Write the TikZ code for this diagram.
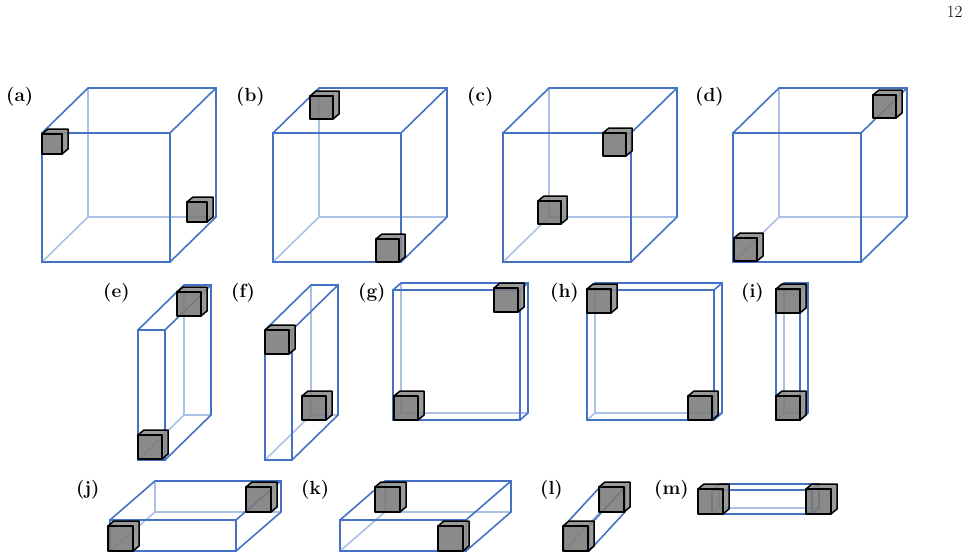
\documentclass[tikz,border=0pt]{standalone}
\begin{document}
\definecolor{bl}{HTML}{4472C4}
\tikzset{vis/.style={draw=bl,line width=1.6pt},hid/.style={draw=bl!45,line width=1.6pt},
lab/.style={font=\fontsize{19}{22}\selectfont\bfseries,anchor=west,inner sep=0pt},
cf/.style={fill=black!52,draw=black,line width=1.5pt,fill opacity=.88,line join=round},
ct/.style={fill=black!45,draw=black,line width=1.5pt,fill opacity=.88,line join=round}}
\newcommand{\cbox}[6]{%
\draw[hid] ({#1+#5},{#2-#6}) -- ({#1+#5},{#4-#6}) -- ({#3+#5},{#4-#6});
\draw[hid] (#1,#4) -- ({#1+#5},{#4-#6});
\draw[vis] (#1,#2) rectangle (#3,#4);
\draw[vis] (#1,#2) -- ({#1+#5},{#2-#6}) -- ({#3+#5},{#2-#6}) -- ({#3+#5},{#4-#6}) -- (#3,#4);
\draw[vis] (#3,#2) -- ({#3+#5},{#2-#6});}
\newcommand{\cub}[3]{% x left, y top of front, size
\draw[ct] (#1,#2) -- ({#1+6},{#2-5}) -- ({#1+#3+6},{#2-5}) -- ({#1+#3+6},{#2+#3-5}) -- ({#1+#3},{#2+#3}) -- ({#1+#3},#2) -- cycle;
\draw[cf] (#1,#2) rectangle ({#1+#3},{#2+#3});}
\begin{tikzpicture}[x=1pt,y=-1pt]
\useasboundingbox (0,0) rectangle (970,560);
\node[font=\fontsize{17}{19}\selectfont,anchor=east] (pg) at (966,12) {12};
% row 1
\node[lab] (la) at (6,97) {(a)}; \cbox{42}{133}{170}{262}{46}{45}
\cub{42}{134}{20} \cub{187}{202}{20}
\node[lab] (lb) at (236,97) {(b)}; \cbox{273}{133}{401}{262}{46}{45}
\cub{310}{96}{23} \cub{376}{239}{23}
\node[lab] (lc) at (467,97) {(c)}; \cbox{503}{133}{631}{262}{46}{45}
\cub{603}{133}{23} \cub{538}{201}{23}
\node[lab] (ld) at (695,97) {(d)}; \cbox{733}{133}{861}{262}{46}{45}
\cub{873}{95}{23} \cub{734}{238}{23}
% row 2
\node[lab] (le) at (103,293) {(e)}; \cbox{138}{330}{165}{460}{46}{45}
\cub{177}{292}{24} \cub{138}{435}{24}
\node[lab] (lf) at (231,293) {(f)}; \cbox{265}{330}{292}{460}{46}{45}
\cub{265}{330}{24} \cub{302}{396}{24}
\node[lab] (lg) at (358,293) {(g)}; \cbox{393}{290}{520}{420}{8}{7}
\cub{494}{288}{24} \cub{394}{396}{24}
\node[lab] (lh) at (550,293) {(h)}; \cbox{587}{290}{714}{420}{8}{7}
\cub{587}{289}{24} \cub{688}{396}{24}
\node[lab] (li) at (741,293) {(i)}; \cbox{776}{290}{800}{420}{8}{7}
\cub{776}{289}{24} \cub{776}{396}{24}
% row 3
\node[lab] (lj) at (76,490) {(j)}; \cbox{110}{520}{236}{551}{45}{39}
\cub{108}{526}{25} \cub{246}{487}{25}
\node[lab] (lk) at (301,490) {(k)}; \cbox{340}{520}{466}{551}{45}{39}
\cub{375}{487}{25} \cub{438}{526}{25}
\node[lab] (ll) at (540,490) {(l)}; \cbox{564}{526}{589}{551}{36}{39}
\cub{563}{526}{25} \cub{599}{487}{25}
\node[lab] (lm) at (654,490) {(m)}; \cbox{712}{490}{812}{514}{7}{6}
\cub{698}{489}{25} \cub{806}{489}{25}
\end{tikzpicture}
\end{document}
